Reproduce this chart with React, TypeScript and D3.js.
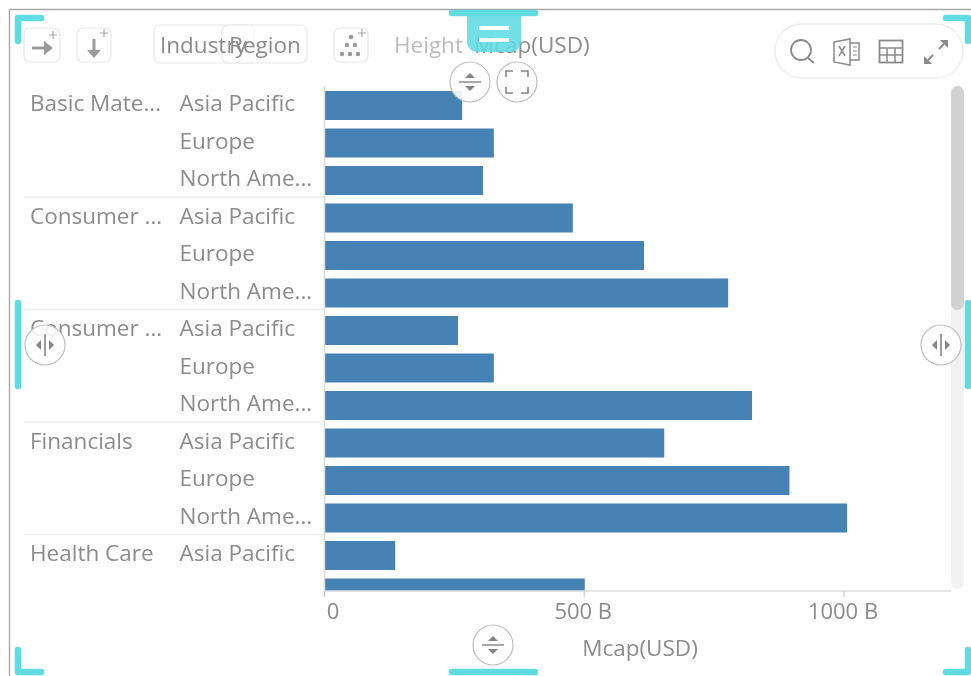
import React from "react";
import * as d3 from "d3";

const industries = ["Basic Mate...", "Consumer ...", "Consumer ...", "Financials", "Health Care"];
const regions = ["Asia Pacific", "Europe", "North Ame..."];
const rowIndustry = [0,0,0,1,1,1,2,2,2,3,3,3,4,4];
const rowRegion = [0,1,2,0,1,2,0,1,2,0,1,2,0,1];
const mcap = [265,326,305,478,615,777,257,326,823,654,895,1006,136,501];
const ticks = [0,500,1000];
const tickLabels = ["0","500 B","1000 B"];
const axisTitle = "Mcap(USD)";

const W = 971, H = 676;
const FONT = "'Open Sans', 'Noto Sans', sans-serif";
const CYAN = "#5fdce2";
const TXT = "#8c8c8c";
const FS = 22.5;

const x = d3.scaleLinear().domain([0, 1000]).range([324.5, 844]);
const rowIds = d3.range(20).map(String);
const y = d3.scaleBand<string>().domain(rowIds).range([91, 91 + 37.5 * 20 - 8.5]).paddingInner(8.5 / 37.5).paddingOuter(0);
const rowTop = (i: number) => (y(String(i)) as number) - 6.5;
const rowText = (i: number) => rowTop(i) + 26.5;

function Btn({ x0, y0, w, h }: { x0: number; y0: number; w: number; h: number }) {
  return <rect x={x0} y={y0} width={w} height={h} rx={6} fill="#fff" fillOpacity={0.6} stroke="#e8e8e8" strokeWidth={1.2} />;
}

function RoundBtn({ cx, cy, kind }: { cx: number; cy: number; kind: string }) {
  const c = "#858585";
  return (
    <g transform={`translate(${cx},${cy})`}>
      <circle r={20} fill="#fff" fillOpacity={0.88} stroke="#bdbdbd" strokeWidth={1.2} />
      {kind === "v" && (
        <g fill={c}>
          <rect x={-11} y={-0.7} width={22} height={1.4} />
          <path d="M-5,-4 L5,-4 L0,-9 Z" />
          <path d="M-5,4 L5,4 L0,9 Z" />
        </g>
      )}
      {kind === "h" && (
        <g fill={c}>
          <rect x={-0.8} y={-11} width={1.6} height={22} />
          <path d="M-4,-5 L-4,5 L-9,0 Z" />
          <path d="M4,-5 L4,5 L9,0 Z" />
        </g>
      )}
      {kind === "full" && (
        <path d="M-11,-5 V-11 H-4 M4,-11 H11 V-5 M11,5 V11 H4 M-4,11 H-11 V5" fill="none" stroke={c} strokeWidth={1.6} />
      )}
    </g>
  );
}

export default function App() {
  const clipBottom = 591;
  return (
    <svg width={W} height={H} viewBox={`0 0 ${W} ${H}`}
      style={{ position: "absolute", left: 0, top: 0, background: "#fff", filter: "blur(0.45px)" }}>
      <defs>
        <clipPath id="plot"><rect x={300} y={84} width={660} height={clipBottom - 84} /></clipPath>
      </defs>
      {/* frame */}
      <path d={`M9.5,${H} V9.5 H${W}`} fill="none" stroke="#a9a9a9" strokeWidth={1.4} />

      {/* toolbar */}
      <Btn x0={24} y0={28} w={36} h={34} />
      <Btn x0={77} y0={28} w={34} h={34} />
      <Btn x0={154} y0={25} w={100} h={38} />
      <Btn x0={222} y0={25} w={85} h={38} />
      <Btn x0={334} y0={28} w={34} h={34} />
      <g stroke="#9a9a9a" fill="none" strokeWidth={3}>
        <path d="M32,48 H46" />
        <path d="M94,39 V52" />
      </g>
      <g fill="#9a9a9a">
        <path d="M44,41 L53,48 L44,55 Z" />
        <path d="M87,50 L101,50 L94,58 Z" />
        {[[351,37],[347,45],[355,45],[342,54],[350,54],[358,54]].map(([a,b],i)=><circle key={i} cx={a} cy={b} r={2.2} />)}
      </g>
      <g stroke="#aaa" strokeWidth={1.2}><path d="M49,35 H57 M53,31 V39 M100,33 H108 M104,29 V37 M358,33 H366 M362,29 V37" /></g>
      <g fontFamily={FONT} fontSize={FS}>
        <text x={160} y={53} fill={TXT}>Industry</text>
        <text x={229} y={53} fill={TXT}>Region</text>
        <text x={394} y={53} fill="#bdbdbd">Height</text>
        <text x={474} y={53} fill={TXT}>Mcap(USD)</text>
      </g>

      {/* right pill */}
      <rect x={775} y={24} width={188} height={54} rx={27} fill="#fff" stroke="#ececec" strokeWidth={1.3} />
      <g fill="none" stroke="#8a8a8a" strokeWidth={1.8}>
        <circle cx={801} cy={50} r={10} />
        <path d="M808,58 L814,63" />
        <path d="M834,42 L850,39 V65 L834,62 Z M850,43 H859 V60 H850" strokeWidth={1.5} />
        <path d="M839,46 L845,56 M845,46 L839,56" strokeWidth={1.5} />
        <path d="M853,47 H857 M853,51 H857 M853,55 H857" strokeWidth={1.2} />
        <rect x={879.5} y={40.5} width={23} height={22} strokeWidth={1.8} />
        <path d="M880,48 H903 M880,55 H903 M887,48 V63 M895,48 V63" strokeWidth={1.5} />
        <path d="M928,60 L933,55 M939,49 L944,44" strokeWidth={1.8} />
      </g>
      <g fill="#8a8a8a">
        <path d="M924,64 L924,56 L932,64 Z" />
        <path d="M948,40 L948,48 L940,40 Z" />
      </g>

      {/* group separators */}
      {d3.range(3, 15, 3).map(i => (
        <line key={i} x1={24} x2={324} y1={rowTop(i)} y2={rowTop(i)} stroke="#ececec" strokeWidth={1.3} />
      ))}

      {/* labels */}
      <g fontFamily={FONT} fontSize={FS} fill={TXT}>
        {mcap.map((_, i) => (
          <g key={i}>
            {rowRegion[i] === 0 && <text x={30} y={rowText(i)}>{industries[rowIndustry[i]]}</text>}
            {i !== 13 && <text x={179.5} y={rowText(i)}>{regions[rowRegion[i]]}</text>}
          </g>
        ))}
      </g>

      {/* bars */}
      <g clipPath="url(#plot)">
        {mcap.map((v, i) => (
          <rect key={i} x={x(0)} y={y(String(i))} width={x(v) - x(0)} height={y.bandwidth()} fill="#4682b4" />
        ))}
      </g>

      {/* axis */}
      <line x1={324.5} x2={324.5} y1={86} y2={597} stroke="#dcdcdc" strokeWidth={1.5} />
      <line x1={324} x2={951} y1={591} y2={591} stroke="#dcdcdc" strokeWidth={1.5} />
      {ticks.map((t, i) => (
        <g key={t}>
          <line x1={x(t)} x2={x(t)} y1={591} y2={597} stroke="#cfcfcf" strokeWidth={1.3} />
          <text x={i === 0 ? x(t) + 8.5 : x(t) - 1} y={619} textAnchor="middle" fontFamily={FONT} fontSize={22} fill={TXT}>{tickLabels[i]}</text>
        </g>
      ))}
      <text x={640} y={656} textAnchor="middle" fontFamily={FONT} fontSize={FS} fill={TXT}>{axisTitle}</text>

      {/* scrollbar */}
      <rect x={951} y={86} width={13} height={503} rx={6.5} fill="#f1f1f1" />
      <rect x={951} y={86} width={13} height={224} rx={6.5} fill="#d2d2d2" />

      {/* selection handles */}
      <g fill="none" stroke={CYAN} strokeWidth={6.5} strokeLinecap="round" strokeLinejoin="round">
        <path d="M18,41 V18 H41" />
        <path d="M946,18 H968 V41" />
        <path d="M18,650 V672 H41" />
        <path d="M946,672 H968 V650" />
        <path d="M452,13 H535" />
        <path d="M452,672 H535" />
        <path d="M18,303 V386" />
        <path d="M968,303 V386" />
      </g>
      <path d="M467,16 H521 V40 Q521,52 509,52 H479 Q467,52 467,40 Z" fill={CYAN} fillOpacity={0.88} />
      <rect x={479} y={26} width={30} height={4} fill="#fff" />
      <rect x={479} y={38} width={30} height={4} fill="#fff" />

      <RoundBtn cx={470} cy={82} kind="v" />
      <RoundBtn cx={517} cy={82} kind="full" />
      <RoundBtn cx={45} cy={345} kind="h" />
      <RoundBtn cx={941} cy={345} kind="h" />
      <RoundBtn cx={493} cy={645} kind="v" />
    </svg>
  );
}
